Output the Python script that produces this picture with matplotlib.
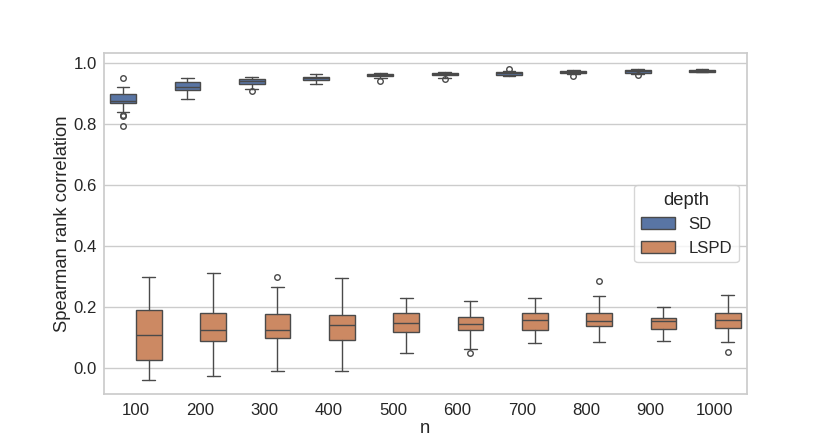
import matplotlib
matplotlib.use("Agg")
import matplotlib.pyplot as plt
import seaborn as sns
from matplotlib.patches import Patch

sns.set_theme(style="whitegrid", font_scale=1.1)
plt.rcParams['font.family'] = ['Liberation Sans', 'DejaVu Sans']

n_labels = ["100", "200", "300", "400", "500", "600", "700", "800", "900", "1000"]
depths = ["SD", "LSPD"]

# SD box statistics
sd_med = [0.877, 0.923, 0.941, 0.951, 0.960, 0.964, 0.967, 0.971, 0.973, 0.975]
sd_q1 = [0.871, 0.911, 0.933, 0.945, 0.957, 0.960, 0.961, 0.968, 0.969, 0.971]
sd_q3 = [0.900, 0.9375, 0.947, 0.956, 0.963, 0.967, 0.971, 0.974, 0.977, 0.979]
sd_lo = [0.839, 0.881, 0.915, 0.933, 0.950, 0.952, 0.958, 0.966, 0.966, 0.970]
sd_hi = [0.922, 0.951, 0.955, 0.965, 0.968, 0.971, 0.975, 0.979, 0.981, 0.982]
sd_fliers = [[0.951, 0.830, 0.826, 0.793], [], [0.908], [], [0.943], [0.947],
             [0.982], [0.958], [0.961], []]

# LSPD box statistics
lspd_med = [0.108, 0.126, 0.124, 0.140, 0.147, 0.145, 0.159, 0.156, 0.154, 0.159]
lspd_q1 = [0.025, 0.088, 0.098, 0.092, 0.117, 0.124, 0.124, 0.137, 0.128, 0.132]
lspd_q3 = [0.192, 0.182, 0.177, 0.174, 0.180, 0.167, 0.182, 0.181, 0.165, 0.182]
lspd_lo = [-0.039, -0.027, -0.010, -0.009, 0.048, 0.0625, 0.083, 0.085, 0.088, 0.086]
lspd_hi = [0.300, 0.313, 0.265, 0.295, 0.229, 0.220, 0.230, 0.238, 0.201, 0.239]
lspd_fliers = [[], [], [0.300], [], [], [0.048], [], [0.284], [], [0.053]]

pal = sns.color_palette("deep")
colors = [sns.desaturate(pal[0], 0.75), sns.desaturate(pal[1], 0.75)]
linecolor = "#4a4a4a"

fig, ax = plt.subplots(figsize=(8.3, 4.43), dpi=100)

def make_stats(med, q1, q3, lo, hi, fl):
    return [dict(med=m, q1=a, q3=b, whislo=l, whishi=h, fliers=f)
            for m, a, b, l, h, f in zip(med, q1, q3, lo, hi, fl)]

groups = [
    make_stats(sd_med, sd_q1, sd_q3, sd_lo, sd_hi, sd_fliers),
    make_stats(lspd_med, lspd_q1, lspd_q3, lspd_lo, lspd_hi, lspd_fliers),
]
offsets = [-0.2, 0.2]
for stats, off, col in zip(groups, offsets, colors):
    pos = [i + off for i in range(len(n_labels))]
    ax.bxp(stats, positions=pos, widths=0.4, capwidths=0.2, patch_artist=True,
           boxprops=dict(facecolor=col, edgecolor=linecolor, linewidth=1.0),
           medianprops=dict(color=linecolor, linewidth=1.0),
           whiskerprops=dict(color=linecolor, linewidth=1.0),
           capprops=dict(color=linecolor, linewidth=1.0),
           flierprops=dict(marker="o", markersize=4, markerfacecolor="none",
                           markeredgecolor=linecolor, markeredgewidth=1.0),
           manage_ticks=False)

ax.set_xticks(range(len(n_labels)))
ax.set_xticklabels(n_labels)
ax.set_xlim(-0.5, len(n_labels) - 0.5)
ax.set_ylim(-0.086, 1.033)
ax.xaxis.grid(False)
ax.yaxis.grid(True)
ax.tick_params(axis="x", length=0, pad=6.3)
ax.tick_params(axis="y", length=0, pad=5.0)
ax.set_xlabel("n", labelpad=1.2)
ax.set_ylabel("Spearman rank correlation", labelpad=2.0)

handles = [Patch(facecolor=c, edgecolor=linecolor, linewidth=1.0, label=d)
           for c, d in zip(colors, depths)]
ax.legend(handles=handles, title="depth", loc="center right")

fig.savefig("out.png", dpi=100)
